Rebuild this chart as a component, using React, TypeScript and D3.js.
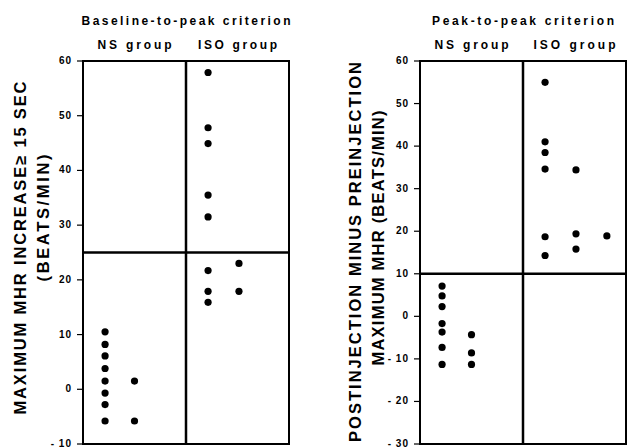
import React from "react";
import * as d3 from "d3";

// values (beats/min), one array per column of dots
const baselineNS = [
  [10.5, 8.2, 6.1, 3.8, 1.5, -0.7, -2.8, -5.8],
  [1.5, -5.8],
];
const baselineISO = [
  [57.9, 47.8, 44.9, 35.5, 31.5, 21.7, 17.9, 15.9],
  [23.0, 17.9],
];
const peakNS = [
  [7.1, 4.8, 2.3, -1.7, -3.7, -7.3, -11.3],
  [-4.3, -8.6, -11.3],
];
const peakISO = [
  [55.0, 41.0, 38.5, 34.6, 18.7, 14.3],
  [34.4, 19.4, 15.8],
  [18.9],
];

const baselineTicks = [60, 50, 40, 30, 20, 10, 0, -10];
const peakTicks = [60, 50, 40, 30, 20, 10, 0, -10, -20, -30];
const groups = ["NS group", "ISO group"];

const W = 627;
const H = 447;
const FONT = "'Liberation Sans', Arial, Helvetica, sans-serif";

type PanelProps = {
  x0: number;
  x1: number;
  domain: [number, number];
  ticks: number[];
  cutoff: number;
  title: string;
  titleLen: number;
  groupLens: number[];
  ns: number[][];
  iso: number[][];
};

function Panel(p: PanelProps) {
  const top = 61;
  const bottom = 444;
  const y = d3.scaleLinear().domain(p.domain).range([bottom, top]);
  // 7 slots across the box: NS columns start at 0.75, divider at 3.5, ISO at 4.25
  const x = d3.scaleLinear().domain([0, 7]).range([p.x0, p.x1]);
  const mid = x(3.5);
  const dots: { cx: number; cy: number }[] = [];
  p.ns.forEach((col, c) => col.forEach((v) => dots.push({ cx: x(0.75 + c), cy: y(v) })));
  p.iso.forEach((col, c) => col.forEach((v) => dots.push({ cx: x(4.25 + c * 1.05), cy: y(v) })));
  const fmt = (t: number) => (t < 0 ? "- " + Math.abs(t) : String(t));

  return (
    <g>
      <text
        x={mid}
        y={25}
        textAnchor="middle"
        fontSize={12}
        fontWeight="bold"
        textLength={p.titleLen}
        lengthAdjust="spacing"
      >
        {p.title}
      </text>
      {groups.map((g, i) => (
        <text
          key={g}
          x={i === 0 ? (p.x0 + mid) / 2 : (mid + p.x1) / 2}
          y={49}
          textAnchor="middle"
          fontSize={12}
          fontWeight="bold"
          textLength={p.groupLens[i]}
          lengthAdjust="spacing"
        >
          {g}
        </text>
      ))}
      {p.ticks.map((t) => (
        <g key={t} transform={`translate(${p.x0},${y(t)})`}>
          <line x1={-6} x2={0} stroke="#000" strokeWidth={1.2} />
          <text
            x={-11}
            dy="0.3em"
            textAnchor="end"
            fontSize={10}
            fontWeight="bold"
            letterSpacing={1}
          >
            {fmt(t)}
          </text>
        </g>
      ))}
      <rect
        x={p.x0}
        y={top}
        width={p.x1 - p.x0}
        height={bottom - top}
        fill="none"
        stroke="#000"
        strokeWidth={2}
      />
      <line x1={mid} x2={mid} y1={top} y2={bottom} stroke="#000" strokeWidth={2.5} />
      <line
        x1={p.x0}
        x2={p.x1}
        y1={y(p.cutoff)}
        y2={y(p.cutoff)}
        stroke="#000"
        strokeWidth={2.5}
      />
      {dots.map((d, i) => (
        <circle key={i} cx={d.cx} cy={d.cy} r={3.6} fill="#000" />
      ))}
    </g>
  );
}

function YLabel({ x, cy, len, text }: { x: number; cy: number; len: number; text: string }) {
  return (
    <text
      transform={`translate(${x},${cy}) rotate(-90)`}
      textAnchor="middle"
      dy="0.35em"
      fontSize={16.5}
      fontWeight="bold"
      textLength={len}
      lengthAdjust="spacing"
    >
      {text}
    </text>
  );
}

export default function App() {
  return (
    <svg
      width={W}
      height={H}
      style={{ position: "absolute", left: 0, top: 0, background: "#fff" }}
      fontFamily={FONT}
    >
      <YLabel x={20} cy={248} len={333} text="MAXIMUM MHR INCREASE≥ 15 SEC" />
      <YLabel x={43} cy={218} len={127} text="(BEATS/MIN)" />
      <YLabel x={355} cy={252} len={380} text="POSTINJECTION MINUS PREINJECTION" />
      <YLabel x={378} cy={238} len={255} text="MAXIMUM MHR (BEATS/MIN)" />
      <Panel
        x0={83}
        x1={289}
        domain={[-10, 60]}
        ticks={baselineTicks}
        cutoff={25}
        title="Baseline-to-peak criterion"
        titleLen={209}
        groupLens={[74, 79]}
        ns={baselineNS}
        iso={baselineISO}
      />
      <Panel
        x0={420}
        x1={626}
        domain={[-30, 60]}
        ticks={peakTicks}
        cutoff={10}
        title="Peak-to-peak criterion"
        titleLen={182}
        groupLens={[74, 82]}
        ns={peakNS}
        iso={peakISO}
      />
    </svg>
  );
}
